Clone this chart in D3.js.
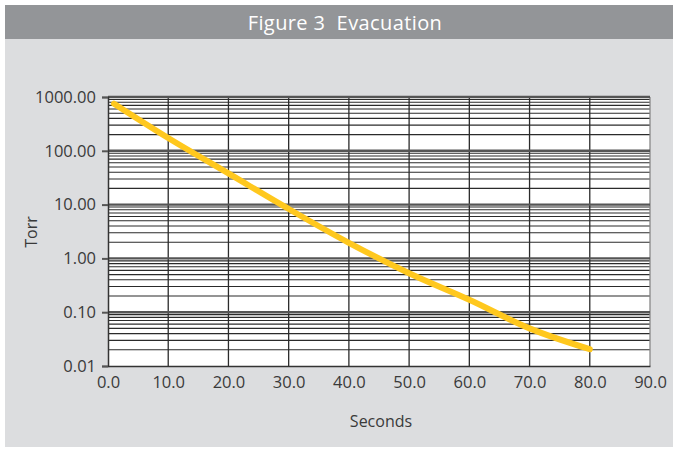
<!DOCTYPE html>
<html>
<head>
<meta charset="utf-8">
<script src="https://cdn.jsdelivr.net/npm/d3@7"></script>
<style>
  body { margin: 0; background: #fff; }
  svg { display: block; }
</style>
</head>
<body>
<svg id="chart"></svg>
<script>
// evacuation curve
const seconds = [1, 10, 20, 30, 40, 50, 60, 70, 80]
const torr    = [750, 173, 38, 8.3, 1.95, 0.53, 0.17, 0.05, 0.0205]

const xTicks = [0, 10, 20, 30, 40, 50, 60, 70, 80, 90]
const yTicks = [0.01, 0.1, 1, 10, 100, 1000]
const yTickLabels = ["0.01", "0.10", "1.00", "10.00", "100.00", "1000.00"]

const width = 673, height = 450
const plot = { left: 108, right: 650, top: 97, bottom: 366 }
const font = "'Open Sans', sans-serif"

const svg = d3.select("#chart")
    .attr("width", width)
    .attr("height", height)

// panel + title band
svg.append("rect")
    .attr("x", 5).attr("y", 5)
    .attr("width", width - 5).attr("height", height - 8)
    .attr("fill", "#dcdddf")

svg.append("rect")
    .attr("x", 5).attr("y", 5)
    .attr("width", width - 5).attr("height", 34)
    .attr("fill", "#939598")

svg.append("text")
    .attr("x", 345).attr("y", 22)
    .attr("text-anchor", "middle")
    .attr("dominant-baseline", "central")
    .attr("fill", "#fff")
    .style("font-family", font)
    .style("font-size", "20px")
    .style("letter-spacing", "0.4px")
    .style("white-space", "pre")
    .text("Figure 3  Evacuation")

const x = d3.scaleLinear().domain([0, 90]).range([plot.left, plot.right])
const y = d3.scaleLog().domain([0.01, 1000]).range([plot.bottom, plot.top])

svg.append("rect")
    .attr("x", plot.left).attr("y", plot.top)
    .attr("width", plot.right - plot.left).attr("height", plot.bottom - plot.top)
    .attr("fill", "#fff")

// minor horizontal grid (2..9 in every decade)
const minor = y.ticks().filter(v => !yTicks.some(t => Math.abs(t - v) / t < 1e-6))
svg.append("g").selectAll("line")
    .data(minor)
    .enter()
    .append("line")
    .attr("x1", plot.left).attr("x2", plot.right)
    .attr("y1", d => y(d)).attr("y2", d => y(d))
    .attr("stroke", "#2b2b2b")
    .attr("stroke-width", 1.1)

// vertical grid
svg.append("g").selectAll("line")
    .data(xTicks.slice(1))
    .enter()
    .append("line")
    .attr("x1", d => x(d)).attr("x2", d => x(d))
    .attr("y1", plot.top).attr("y2", plot.bottom)
    .attr("stroke", d => d === 90 ? "#888" : "#2b2b2b")
    .attr("stroke-width", 1.3)

// decade lines
svg.append("g").selectAll("line")
    .data(yTicks.slice(1))
    .enter()
    .append("line")
    .attr("x1", plot.left).attr("x2", plot.right)
    .attr("y1", d => y(d)).attr("y2", d => y(d))
    .attr("stroke", "#555")
    .attr("stroke-width", 2.4)

// axes
const yAxis = d3.axisLeft(y)
    .tickValues(yTicks)
    .tickFormat((d, i) => yTickLabels[i])
    .tickSize(6)
    .tickPadding(6)

const gy = svg.append("g")
    .attr("transform", `translate(${plot.left},0)`)
    .call(yAxis)
gy.select(".domain").attr("stroke", "#333").attr("stroke-width", 1.5)
gy.selectAll(".tick line").attr("stroke", "#555").attr("stroke-width", 2)
gy.selectAll("text")
    .attr("fill", "#3a3a3a")
    .style("font-family", font)
    .style("font-size", "16.5px")

const xAxis = d3.axisBottom(x)
    .tickValues(xTicks)
    .tickFormat(d3.format(".1f"))
    .tickSize(0)
    .tickPadding(10)

const gx = svg.append("g")
    .attr("transform", `translate(0,${plot.bottom})`)
    .call(xAxis)
gx.select(".domain").attr("stroke", "#333").attr("stroke-width", 1.5)
gx.selectAll("text")
    .attr("fill", "#3a3a3a")
    .style("font-family", font)
    .style("font-size", "16.5px")

// axis titles
svg.append("text")
    .attr("x", 381).attr("y", 421)
    .attr("text-anchor", "middle")
    .attr("dominant-baseline", "central")
    .attr("fill", "#3a3a3a")
    .style("font-family", font)
    .style("font-size", "16px")
    .text("Seconds")

svg.append("text")
    .attr("transform", "translate(31,232) rotate(-90)")
    .attr("text-anchor", "middle")
    .attr("dominant-baseline", "central")
    .attr("fill", "#3a3a3a")
    .style("font-family", font)
    .style("font-size", "16px")
    .text("Torr")

// curve
const line = d3.line()
    .x(d => x(d[0]))
    .y(d => y(d[1]))
    .curve(d3.curveMonotoneX)

svg.append("path")
    .datum(seconds.map((s, i) => [s, torr[i]]))
    .attr("d", line)
    .attr("fill", "none")
    .attr("stroke", "#ffc81e")
    .attr("stroke-width", 6)
    .attr("stroke-linecap", "round")
</script>
</body>
</html>
